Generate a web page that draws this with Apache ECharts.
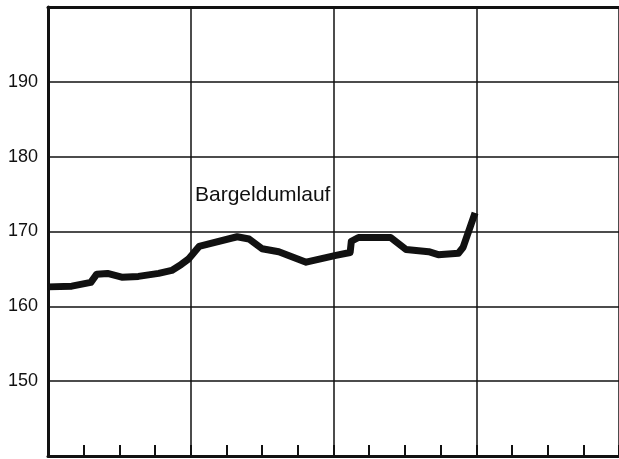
<!DOCTYPE html>
<html>
<head>
<meta charset="utf-8">
<script src="https://cdn.jsdelivr.net/npm/echarts@6/dist/echarts.min.js"></script>
<style>html,body{margin:0;padding:0;background:#fff}#c{width:619px;height:459px}</style>
</head>
<body>
<div id="c"></div>
<script>
// months since start of the first year shown (x), Bargeldumlauf (y)
const months = [0, 2, 3.6, 4.1, 5, 6.2, 7.6, 9.3, 10.4, 11.2, 11.8, 12.7, 15.9, 16.9, 18, 19.4, 21.7, 24.2, 25.4, 25.5, 26.1, 28.8, 30.1, 32, 32.8, 34.5, 34.9, 35.9];
const values = [162.6, 162.7, 163.2, 164.3, 164.4, 163.9, 164.0, 164.4, 164.8, 165.6, 166.3, 168.0, 169.3, 169.0, 167.7, 167.3, 165.9, 166.8, 167.2, 168.7, 169.2, 169.2, 167.6, 167.3, 166.9, 167.1, 167.9, 172.5];
const yTicks = [150, 160, 170, 180, 190];
const seriesName = 'Bargeldumlauf';

const chart = echarts.init(document.getElementById('c'), null, {renderer: 'canvas'});
const ink = '#111';
chart.setOption({
  animation: false,
  backgroundColor: '#fff',
  grid: {left: 48, top: 7, width: 572, height: 449, containLabel: false},
  xAxis: [
    {
      type: 'value', position: 'bottom', min: 0, max: 48, interval: 3,
      axisLine: {show: true, onZero: false, lineStyle: {color: ink, width: 3}},
      axisTick: {show: true, inside: true, length: 11, lineStyle: {color: ink, width: 2}},
      axisLabel: {show: false},
      splitLine: {show: false}
    },
    {
      type: 'value', position: 'top', min: 0, max: 48, interval: 12,
      axisLine: {show: true, onZero: false, lineStyle: {color: ink, width: 3}},
      axisTick: {show: false},
      axisLabel: {show: false},
      splitLine: {show: true, lineStyle: {color: ink, width: 1.5}}
    }
  ],
  yAxis: {
    type: 'value', min: 140, max: 200, interval: 10,
    axisLine: {show: true, lineStyle: {color: ink, width: 3}},
    axisTick: {show: false},
    axisLabel: {
      color: ink, fontSize: 18, fontFamily: 'Liberation Sans, Arial, sans-serif', margin: 10,
      formatter: v => yTicks.indexOf(v) >= 0 ? String(v) : ''
    },
    splitLine: {show: true, lineStyle: {color: ink, width: 1.5}}
  },
  series: [{
    name: seriesName,
    type: 'line',
    xAxisIndex: 0,
    data: months.map((m, i) => [m, values[i]]),
    showSymbol: false,
    smooth: false,
    lineStyle: {color: ink, width: 7, join: 'round', cap: 'butt'}
  }],
  graphic: [{
    type: 'text', left: 195, top: 185,
    style: {text: seriesName, fill: ink, fontSize: 21, fontFamily: 'Liberation Sans, Arial, sans-serif'}
  }]
});
</script>
</body>
</html>
